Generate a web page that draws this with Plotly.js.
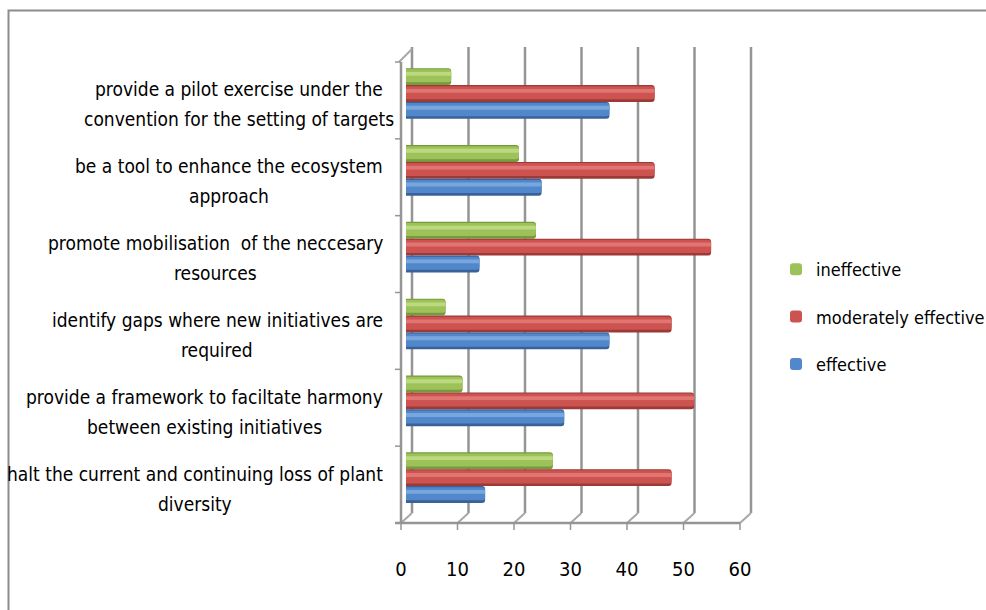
<!DOCTYPE html>
<html>
<head>
<meta charset="utf-8">
<script src="https://cdn.plot.ly/plotly-3.0.1.min.js"></script>
<style>
  html, body { margin: 0; padding: 0; background: #ffffff; }
  #chart { width: 986px; height: 610px; }
</style>
</head>
<body>
<div id="chart"></div>
<script>
// Survey: how effective would targets be for each purpose (number of responses)
// Categories listed bottom-to-top, each split in the two lines it is printed on.
const catLine1 = [
  "halt the current and continuing loss of plant",
  "provide a framework to faciltate harmony",
  "identify gaps where new initiatives are",
  "promote mobilisation  of the neccesary",
  "be a tool to enhance the ecosystem",
  "provide a pilot exercise under the"
];
const catLine2 = [
  "diversity",
  "between existing initiatives",
  "required",
  "resources",
  "approach",
  "convention for the setting of targets"
];
const categories = catLine1.map((a, i) => a + " " + catLine2[i]);

const effective           = [14, 28, 36, 13, 24, 36];
const moderatelyEffective = [47, 51, 47, 54, 44, 44];
const ineffective         = [26, 10, 7, 23, 20, 8];

const xTicks = [0, 10, 20, 30, 40, 50, 60];

// ---- frame geometry (px) ----
const FONT = '"Liberation Sans Narrow", "Arial Narrow", "DejaVu Sans Condensed", sans-serif';
const L = 406, R = 241, T = 57, B = 92;
const W = 986 - L - R, H = 610 - T - B;
const PXU = W / 60;                 // px per value unit
const depthX = 6, depthY = 10;      // back wall offset from bar plane
const frontX = -5, frontY = 5;      // front plane offset from bar plane
const xp = px => (px - L) / W;      // px -> paper x
const yp = py => (T + H - py) / H;  // px -> paper y

// series styling: [dark edge, body, highlight]; listed top-down as in the legend
const series = [
  {name: "ineffective",          vals: ineffective,         off:  0.135, c: ["#779a3c", "#9dc25a", "#bbd97f"]},
  {name: "moderately effective", vals: moderatelyEffective, off: -0.085, c: ["#9c3a37", "#cc5350", "#e07572"]},
  {name: "effective",            vals: effective,           off: -0.305, c: ["#3a6298", "#5188cb", "#7aa6de"]}
];
const BW = 0.22;

const traces = [];
// dark base (gives the shaded underside)
series.forEach(s => traces.push({
  type: "bar", orientation: "h", y: categories, x: s.vals,
  offset: s.off, width: BW, showlegend: false, hoverinfo: "skip",
  marker: {color: s.c[0], line: {width: 0}, cornerradius: 3}
}));
// main body (legend entry)
series.forEach(s => traces.push({
  type: "bar", orientation: "h", y: categories, x: s.vals,
  offset: s.off + 0.035, width: BW - 0.05, name: s.name, legendgroup: s.name,
  marker: {color: s.c[1], line: {width: 0}, cornerradius: 3},
  hovertemplate: "%{x}<extra>" + s.name + "</extra>"
}));
// glossy highlight stripe
series.forEach(s => traces.push({
  type: "bar", orientation: "h", y: categories, x: s.vals,
  offset: s.off + 0.12, width: 0.05, showlegend: false, hoverinfo: "skip",
  marker: {color: s.c[2], line: {width: 0}, cornerradius: 2}
}));

// ---- 3-D frame: back-wall gridlines, front axes, floor edges ----
const grey = "#959595";
const shapes = [];
const backTop = T - depthY, backBot = T + H - 5;
const frontTop = T + 5, frontBot = T + H + frontY;
xTicks.forEach(t => {
  const bx = L + t * PXU + depthX;
  const fx = L + t * PXU + frontX;
  shapes.push({type: "line", xref: "paper", yref: "paper",
    x0: xp(bx), x1: xp(bx), y0: yp(backTop), y1: yp(backBot),
    line: {color: grey, width: 2.5}, layer: "below"});
  shapes.push({type: "line", xref: "paper", yref: "paper",
    x0: xp(fx), x1: xp(bx), y0: yp(frontBot), y1: yp(backBot),
    line: {color: "#a8a8a8", width: 2}, layer: "below"});
  shapes.push({type: "line", xref: "paper", yref: "paper",
    x0: xp(fx), x1: xp(fx), y0: yp(frontBot), y1: yp(frontBot + 7),
    line: {color: grey, width: 1.5}});
});
// front floor edge and front vertical axis
shapes.push({type: "line", xref: "paper", yref: "paper",
  x0: xp(L + frontX - 6), x1: xp(L + 60 * PXU + frontX), y0: yp(frontBot), y1: yp(frontBot),
  line: {color: grey, width: 2.5}});
shapes.push({type: "line", xref: "paper", yref: "paper",
  x0: xp(L + frontX), x1: xp(L + frontX), y0: yp(frontTop), y1: yp(frontBot),
  line: {color: grey, width: 2.5}});
// top-left corner link between front axis and back wall
shapes.push({type: "line", xref: "paper", yref: "paper",
  x0: xp(L + frontX - 2), x1: xp(L + depthX), y0: yp(frontTop), y1: yp(backTop + 2),
  line: {color: "#a8a8a8", width: 2}});
// category tick marks on the front axis
for (let i = 0; i <= categories.length; i++) {
  const py = frontTop + i * (frontBot - frontTop) / categories.length;
  shapes.push({type: "line", xref: "paper", yref: "paper",
    x0: xp(L + frontX - 6), x1: xp(L + frontX), y0: yp(py), y1: yp(py),
    line: {color: grey, width: 1.5}});
}
// chart border
shapes.push({type: "rect", xref: "paper", yref: "paper",
  x0: xp(8.5), x1: xp(995), y0: yp(10.5), y1: yp(620),
  line: {color: "#8c8c8c", width: 2}, layer: "below"});

// ---- category labels, two centred lines each ----
const LABEL_SIZE = 19;
const ctx = document.createElement("canvas").getContext("2d");
ctx.font = LABEL_SIZE + "px " + FONT;
const annotations = [];
categories.forEach((c, i) => {
  const w1 = ctx.measureText(catLine1[i]).width;
  const cx = 383 - w1 / 2;
  annotations.push({xref: "paper", yref: "y", x: xp(cx), y: c, xanchor: "center",
    yanchor: "middle", yshift: 6, text: catLine1[i], showarrow: false,
    font: {family: FONT, size: LABEL_SIZE, color: "#000"}});
  annotations.push({xref: "paper", yref: "y", x: xp(cx), y: c, xanchor: "center",
    yanchor: "middle", yshift: -24, text: catLine2[i], showarrow: false,
    font: {family: FONT, size: LABEL_SIZE, color: "#000"}});
});

const layout = {
  width: 986, height: 610,
  margin: {l: L, r: R, t: T, b: B, pad: 0, autoexpand: false},
  paper_bgcolor: "#ffffff", plot_bgcolor: "rgba(0,0,0,0)",
  barmode: "overlay",
  font: {family: FONT, size: 20, color: "#000"},
  xaxis: {range: [0, 60], tickvals: xTicks, ticktext: xTicks.map(String),
    showgrid: false, zeroline: false, showline: false, ticks: "",
    ticklabelshift: frontX, ticklabelstandoff: 37, automargin: false,
    tickfont: {family: FONT, size: 20, color: "#000"}, fixedrange: true},
  yaxis: {type: "category", categoryarray: categories, range: [-0.5, categories.length - 0.5],
    showticklabels: false, showgrid: false, zeroline: false, showline: false, ticks: "",
    automargin: false, fixedrange: true},
  showlegend: true,
  legend: {xref: "container", yref: "container", x: 776 / 986, y: 1 - 251 / 610,
    xanchor: "left", yanchor: "top",
    traceorder: "grouped", tracegroupgap: 21, itemwidth: 30,
    bgcolor: "rgba(0,0,0,0)", font: {family: FONT, size: 18, color: "#000"}},
  shapes: shapes,
  annotations: annotations
};

Plotly.newPlot("chart", traces, layout, {displayModeBar: false});
</script>
</body>
</html>
